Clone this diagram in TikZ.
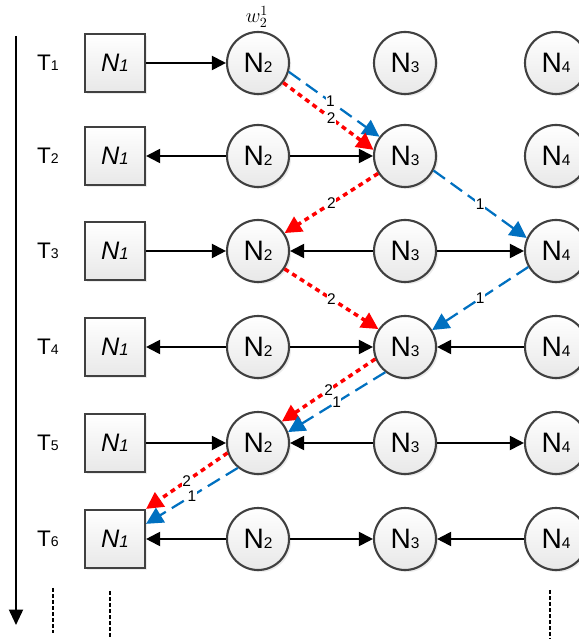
\documentclass[tikz,border=0pt]{standalone}
\usepackage{fontspec}
\setmainfont{Liberation Sans}
\usetikzlibrary{arrows.meta, shadows}
\definecolor{flowBlue}{RGB}{0,112,192}
\definecolor{flowRed}{RGB}{255,0,0}
\definecolor{nodeInk}{RGB}{64,64,64}
\newcommand{\Nsub}[1]{N{\fontsize{11}{11}\selectfont #1}}

\begin{document}
\begin{tikzpicture}[
    peer/.style={circle, draw=nodeInk, line width=1.5pt, minimum size=1.55cm, inner sep=0pt,
      top color=white, bottom color=black!9,
      drop shadow={shadow xshift=1.5pt, shadow yshift=-1.5pt, fill=black!15},
      font=\fontsize{20}{20}\selectfont},
    sink/.style={rectangle, draw=nodeInk, line width=1.5pt, minimum width=1.5cm, minimum height=1.45cm,
      inner sep=0pt, top color=white, bottom color=black!9,
      drop shadow={shadow xshift=1.5pt, shadow yshift=-1.5pt, fill=black!15},
      font=\fontsize{18}{18}\selectfont\itshape},
    link/.style={line width=1.4pt, -{Triangle[length=10pt, width=10pt]}},
    msgA/.style={flowBlue, line width=1.6pt, dash pattern=on 10pt off 5pt, -{Triangle[length=12pt, width=12pt]}},
    msgB/.style={flowRed, line width=2.5pt, dash pattern=on 3.5pt off 3pt, -{Triangle[length=12pt, width=12pt]}},
    tag/.style={fill=white, inner sep=0.3pt, text=black, font=\fontsize{11}{11}\selectfont},
    etc/.style={line width=1.4pt, dash pattern=on 2.5pt off 1.8pt}
  ]
  \clip (0,0) rectangle (14.475,15.975);

  % time axis
  \draw[line width=1.4pt, -{Triangle[length=11pt, width=10pt]}] (0.4,15.075) -- (0.4,0.35);

  % one row of peers per time slot
  \foreach \r/\y in {1/14.4, 2/12.075, 3/9.7, 4/7.3, 5/4.9, 6/2.5} {
    \node[font=\fontsize{16}{16}\selectfont] (t\r) at (1.2,\y) {T{\fontsize{10}{10}\selectfont\r}};
    \node[sink] (n1\r) at (2.875,\y) {N{\fontsize{12}{12}\selectfont 1}};
    \node[peer] (n2\r) at (6.45,\y) {\Nsub{2}};
    \node[peer] (n3\r) at (10.125,\y) {\Nsub{3}};
    \node[peer] (n4\r) at (13.9,\y) {\Nsub{4}};
  }
  \node[inner sep=0pt] (w) at (6.425,15.55) {\fontsize{14}{14}\selectfont$w_2^1$};

  % links inside each slot
  \draw[link] (n11) -- (n21);
  \draw[link] (n22) -- (n12);
  \draw[link] (n22) -- (n32);
  \foreach \r in {3,5} {
    \draw[link] (n1\r) -- (n2\r);
    \draw[link] (n3\r) -- (n2\r);
    \draw[link] (n3\r) -- (n4\r);
  }
  \foreach \r in {4,6} {
    \draw[link] (n2\r) -- (n1\r);
    \draw[link] (n2\r) -- (n3\r);
    \draw[link] (n4\r) -- (n3\r);
  }

  % message 1 (blue) and message 2 (red) between slots
  \draw[msgA] (n21.-16) -- node[tag, pos=0.46] {1} (n32.143);
  \draw[msgB] (n21.-38) -- node[tag, pos=0.53] {2} (n32.169);
  \draw[msgA] (n32.-27) -- node[tag] {1} (n43.156);
  \draw[msgB] (n32.-147) -- node[tag] {2} (n23.34);
  \draw[msgB] (n23.-34) -- node[tag] {2} (n34.146);
  \draw[msgA] (n43.-150) -- node[tag] {1} (n34.32);
  \draw[msgB] (n34.-158) -- node[tag] {2} (n25.42);
  \draw[msgA] (n34.-128) -- node[tag] {1} (n25.20);
  \draw[msgB] (n25.-162) -- node[tag] {2} (n16.north east);
  \draw[msgA] (n25.-129) -- node[tag] {1} (n16.26);

  % continuation marks
  \draw[etc] (1.325,1.275) -- (1.325,0.15);
  \draw[etc] (2.75,1.2) -- (2.75,0);
  \draw[etc] (13.75,1.225) -- (13.75,0);
\end{tikzpicture}
\end{document}
